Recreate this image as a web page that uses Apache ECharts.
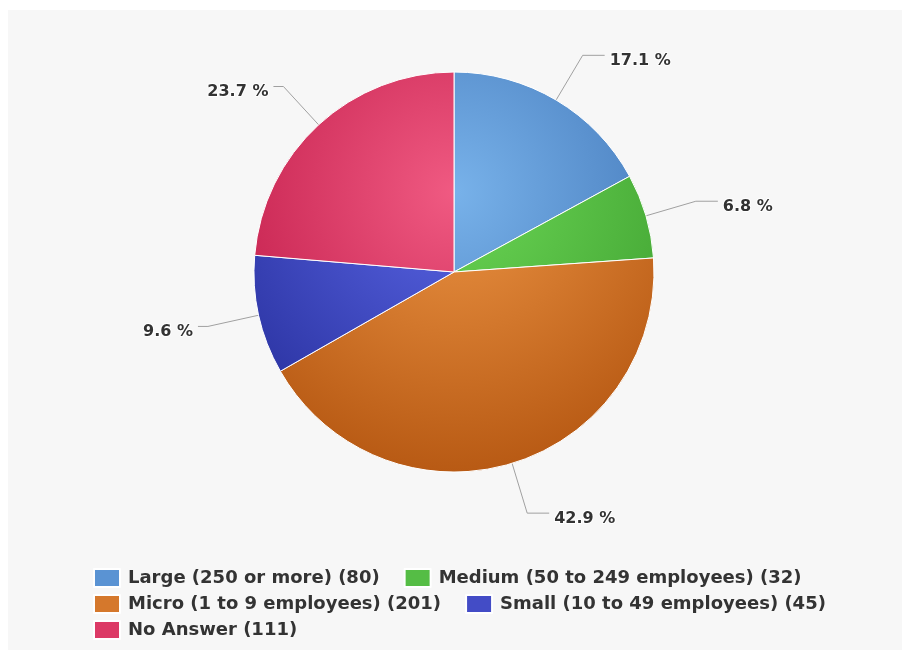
<!DOCTYPE html>
<html>
<head>
<meta charset="utf-8">
<script src="https://cdn.jsdelivr.net/npm/echarts@6/dist/echarts.min.js"></script>
<style>
html,body{margin:0;padding:0;background:#ffffff;}
#chart{position:absolute;left:8px;top:10px;width:894px;height:640px;background:#f7f7f7;}
</style>
</head>
<body>
<div id="chart"></div>
<script>
var categories = ['Large (250 or more)', 'Medium (50 to 249 employees)', 'Micro (1 to 9 employees)', 'Small (10 to 49 employees)', 'No Answer'];
var values = [80, 32, 201, 45, 111];
var lightColors = ['#78b2ea', '#6bd655', '#ec9444', '#5a66e6', '#f05a82'];
var darkColors = ['#3f73b5', '#3fa030', '#b85a14', '#2a32a0', '#c01a48'];
var midColors = ['#5a93d3', '#55bd45', '#d5782c', '#434cc6', '#dc3a66'];

var total = values.reduce(function(a, b){ return a + b; }, 0);
var cx = 446, cy = 262, R = 200;

function grad(i){
  return {type:'radial', x:cx, y:cy - 0.2*2*R, r:0.7*2*R, global:true,
    colorStops:[{offset:0, color:lightColors[i]}, {offset:1, color:darkColors[i]}]};
}

var cum = 0;
var data = categories.map(function(c, i){
  var mid = (cum + values[i] / 2) / total;
  cum += values[i];
  var leftSide = mid > 0.5;
  return {name: c + ' (' + values[i] + ')', value: values[i], itemStyle:{color: grad(i)},
    labelLine: {length2: leftSide ? 10 : 22}};
});
var legendData = categories.map(function(c, i){
  return {name: c + ' (' + values[i] + ')', itemStyle:{color: midColors[i]}};
});

var chart = echarts.init(document.getElementById('chart'));
chart.setOption({
  animation: false,
  textStyle: {fontFamily: 'DejaVu Sans'},
  legend: {
    left: 85, top: 558, width: 760, padding: 0,
    orient: 'horizontal',
    icon: 'rect', itemWidth: 26, itemHeight: 18, itemGap: 6,
    data: legendData,
    textStyle: {fontFamily: 'DejaVu Sans', fontSize: 18, fontWeight: 'bold', color: '#333', lineHeight: 18, padding: [0, 18, 0, 3]}
  },
  series: [{
    type: 'pie',
    center: [cx, cy],
    radius: R,
    startAngle: 90,
    clockwise: true,
    data: data,
    itemStyle: {borderColor: '#ffffff', borderWidth: 1},
    emphasis: {disabled: true},
    label: {
      show: true, position: 'outside',
      formatter: function(p){ return '{a|' + (p.value / total * 100).toFixed(1) + ' %}'; },
      rich: {
        a: {fontFamily: 'DejaVu Sans', fontSize: 16, fontWeight: 'bold', color: '#333',
            textBorderColor: '#ffffff', textBorderWidth: 2, lineHeight: 18, padding: [11, 0, 0, 0]}
      }
    },
    labelLine: {show: true, length: 52, length2: 22, lineStyle: {color: '#a0a0a0', width: 1}}
  }]
});
</script>
</body>
</html>
